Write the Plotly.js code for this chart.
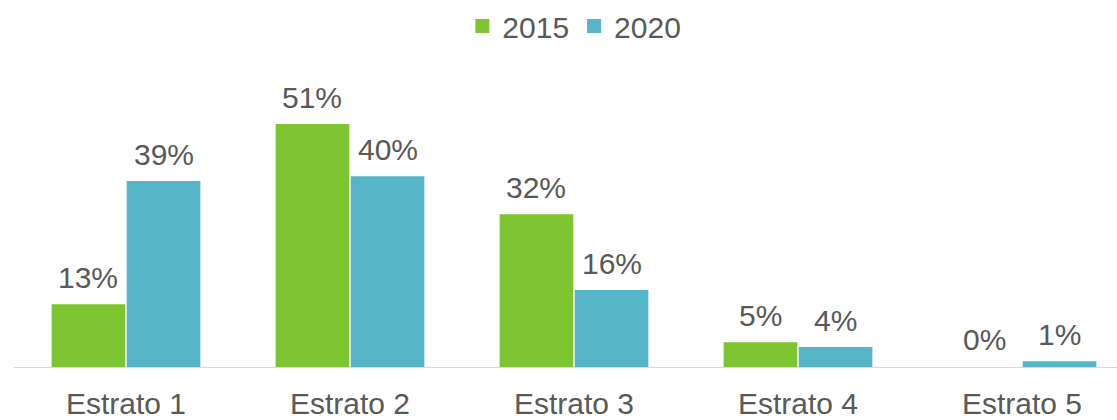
<!DOCTYPE html>
<html>
<head>
<meta charset="utf-8">
<script src="https://cdn.plot.ly/plotly-3.0.1.min.js"></script>
<style>html,body{margin:0;padding:0;background:#fff;}#chart{width:1117px;height:420px;}</style>
</head>
<body>
<div id="chart"></div>
<script>
const categories = ["Estrato 1", "Estrato 2", "Estrato 3", "Estrato 4", "Estrato 5"];
const seriesNames = ["2015", "2020"];
const values2015 = [13, 51, 32, 5, 0];
const values2020 = [39, 40, 16, 4, 1];
const colors = ["#7fc531", "#56b6c8"];

const textColor = "#595959";
const font = "Liberation Sans, Arial, sans-serif";
const bargap = 0.33;
const slot = (1 - bargap) / 2;

const traces = [values2015, values2020].map((vals, k) => ({
  type: "bar",
  name: seriesNames[k],
  x: categories,
  y: vals,
  marker: {
    color: colors[k],
    line: { width: vals.map(v => (v > 0 ? 2 : 0)), color: colors[k] }
  },
  hoverinfo: "skip"
}));

const annotations = [];
[values2015, values2020].forEach((vals, k) => {
  vals.forEach((v, i) => {
    annotations.push({
      x: i + (k === 0 ? -slot / 2 : slot / 2),
      y: v,
      xref: "x", yref: "y",
      text: v + "%",
      showarrow: false,
      yanchor: "bottom",
      yshift: 9,
      font: { family: font, size: 30, color: textColor }
    });
  });
});

const layout = {
  width: 1117, height: 420,
  margin: { l: 14, r: 0, t: 60, b: 53 },
  paper_bgcolor: "#ffffff",
  plot_bgcolor: "#ffffff",
  barmode: "group",
  bargap: bargap,
  bargroupgap: 0.045,
  font: { family: font, size: 30, color: textColor },
  showlegend: true,
  legend: {
    orientation: "h",
    x: 0.508, xanchor: "center",
    y: 1, yanchor: "top", yref: "container",
    font: { family: font, size: 30, color: textColor },
    itemclick: false, itemdoubleclick: false
  },
  xaxis: {
    type: "category",
    range: [-0.5, 4.424],
    showline: true, linecolor: "#d9d9d9", linewidth: 1.3,
    showgrid: false, zeroline: false, ticks: "",
    ticklabelstandoff: 10,
    tickfont: { family: font, size: 30, color: textColor },
    fixedrange: true
  },
  yaxis: {
    range: [0, 64.7],
    showgrid: false, zeroline: false, showline: false,
    showticklabels: false, ticks: "",
    fixedrange: true
  },
  annotations: annotations
};

Plotly.newPlot("chart", traces, layout, { displayModeBar: false, staticPlot: true });
</script>
</body>
</html>
